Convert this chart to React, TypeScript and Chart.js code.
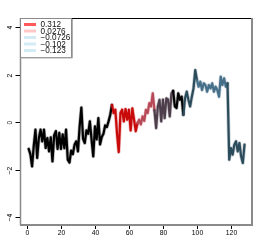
import { useEffect, useRef } from "react";
import { Chart, registerables } from "chart.js";

Chart.register(...registerables);

const yValues = [
  -1.13, -1.35, -1.86, -1.0, -0.32, -1.51, -0.67, -0.32, -0.81, -0.32,
  -1.09, -0.67, -1.23, -0.64, -1.65, -0.55, -0.38, -1.13, -0.45, -1.13,
  -0.52, -1.1, -0.32, -1.58, -1.7, -1.2, -1.35, -0.95, -0.81, -1.23,
  -0.18, 0.61, -0.7, -0.88, -0.35, -0.49, 0.03, -0.73, -1.44, -0.18,
  -0.73, 0.17, -0.94, -0.63, -0.49, -0.14, -0.21, 0.03, 0.31, 0.72,
  0.38, 0.52, -0.49, -1.26, 0.38, 0.52, 0.03, 0.55, 0.1, 0.52,
  -0.35, 0.58, 0.1, -0.38, -0.05, 0.1, -0.1, 0.24, 0.05, 0.52,
  0.38, 0.8, 0.66, 1.21, 0.5, -0.25, 0.66, 0.94, 0.03, 0.95,
  0.17, 1.0, 0.95, 0.24, 1.21, 1.31, 0.66, 0.59, 1.21, 0.94,
  1.07, 0.31, 1.0, 1.28, 0.94, 0.66, 1.07, 1.42, 2.19, 1.77,
  1.49, 1.7, 1.35, 1.63, 1.56, 1.28, 1.56, 1.42, 1.63, 1.28,
  1.49, 1.35, 1.07, 1.91, 1.56, 1.84, 1.49, 1.63, -1.58, -1.09,
  -1.37, -0.95, -0.81, -1.23, -0.88, -1.44, -1.72, -0.95,
];

const segmentStarts = [1, 50, 65, 75, 86, 92, 100, 118];
const segmentColors = [
  "#000000",
  "#c80a0a",
  "#b84a58",
  "#4e3e4c",
  "#000000",
  "#2c4c5c",
  "#46708a",
  "#2c4c5c",
];

const legendLabels = ["0.312", "0.0276", "\u22120.0726", "\u22120.102", "\u22120.123"];
const legendColors = ["#ff5a5a", "#ffc8c8", "#d2ebf5", "#d2ebf5", "#d2ebf5"];

const xTicks = [0, 20, 40, 60, 80, 100, 120];
const yTicks = [-4, -2, 0, 2, 4];

const TICK_FONT = "6.8px 'Liberation Sans', Arial, sans-serif";
const LEGEND_FONT = "8.2px 'Liberation Sans', Arial, sans-serif";

function colorFor(x: number, alpha = 1): string {
  let idx = 0;
  for (let i = 0; i < segmentStarts.length; i++) {
    if (x >= segmentStarts[i]) idx = i;
  }
  const c = segmentColors[idx];
  if (alpha >= 1) return c;
  const r = parseInt(c.slice(1, 3), 16);
  const g = parseInt(c.slice(3, 5), 16);
  const b = parseInt(c.slice(5, 7), 16);
  return `rgba(${r},${g},${b},${alpha})`;
}

function fmt(v: number): string {
  return v < 0 ? "\u2212" + Math.abs(v) : String(v);
}

const axesPlugin = {
  id: "rAxes",
  afterDraw(chart: any) {
    const ctx = chart.ctx as CanvasRenderingContext2D;
    const { left, right, top, bottom } = chart.chartArea;
    const xs = chart.scales.x;
    const ys = chart.scales.y;
    ctx.save();
    // box
    ctx.strokeStyle = "#000";
    ctx.lineWidth = 1;
    ctx.beginPath();
    ctx.moveTo(left, top + 0.5);
    ctx.lineTo(right, top + 0.5);
    ctx.stroke();
    ctx.strokeStyle = "#8a8a8a";
    ctx.lineWidth = 1.5;
    ctx.beginPath();
    ctx.moveTo(left + 0.5, top);
    ctx.lineTo(left + 0.5, bottom);
    ctx.stroke();
    ctx.lineWidth = 2;
    ctx.beginPath();
    ctx.moveTo(left, bottom);
    ctx.lineTo(right, bottom);
    ctx.lineTo(right, top);
    ctx.stroke();

    // ticks
    ctx.strokeStyle = "#000";
    ctx.lineWidth = 1;
    ctx.fillStyle = "#000";
    ctx.font = TICK_FONT;
    ctx.textAlign = "center";
    ctx.textBaseline = "middle";
    for (const v of xTicks) {
      const px = Math.round(xs.getPixelForValue(v)) + 0.5;
      ctx.beginPath();
      ctx.moveTo(px, bottom + 1);
      ctx.lineTo(px, bottom + 4);
      ctx.stroke();
      ctx.fillText(fmt(v), px, bottom + 8.5);
    }
    for (const v of yTicks) {
      const py = Math.round(ys.getPixelForValue(v)) + 0.5;
      ctx.beginPath();
      ctx.moveTo(left - 4.5, py);
      ctx.lineTo(left, py);
      ctx.stroke();
      ctx.save();
      ctx.translate(left - 10, py);
      ctx.rotate(-Math.PI / 2);
      ctx.fillText(fmt(v), 0, 0);
      ctx.restore();
    }

    // legend
    const lx = left + 0.5;
    const ly = top;
    const lw = 51;
    const lh = 39;
    ctx.fillStyle = "#fff";
    ctx.fillRect(lx, ly, lw, lh);
    ctx.strokeStyle = "#8a8a8a";
    ctx.lineWidth = 1;
    ctx.strokeRect(lx, ly + 0.5, lw, lh);
    ctx.strokeStyle = "#b0b0b0";
    ctx.beginPath();
    ctx.moveTo(lx + lw + 1, ly + 1);
    ctx.lineTo(lx + lw + 1, ly + lh + 1);
    ctx.lineTo(lx + 1, ly + lh + 1);
    ctx.stroke();
    ctx.font = LEGEND_FONT;
    ctx.textAlign = "left";
    ctx.textBaseline = "middle";
    legendLabels.forEach((lab, i) => {
      const yy = ly + 6.5 + i * 6.5;
      ctx.strokeStyle = legendColors[i];
      ctx.lineWidth = 3;
      ctx.beginPath();
      ctx.moveTo(lx + 3.5, yy);
      ctx.lineTo(lx + 15.5, yy);
      ctx.stroke();
      ctx.fillStyle = "#111";
      ctx.fillText(lab, lx + 20, yy + 0.5);
    });
    ctx.restore();
  },
};

export default function App() {
  const ref = useRef<HTMLCanvasElement | null>(null);
  useEffect(() => {
    if (!ref.current) return;
    const points = yValues.map((y, i) => ({ x: i + 1, y }));
    const chart = new Chart(ref.current, {
      type: "line",
      data: {
        datasets: [
          {
            data: points,
            borderWidth: 2.2,
            borderColor: "#000",
            borderJoinStyle: "round",
            borderCapStyle: "round",
            pointRadius: 0,
            tension: 0,
            segment: {
              borderColor: (c: any) => colorFor(c.p0.parsed.x),
            },
          } as any,
          {
            data: points,
            borderWidth: 3.6,
            borderColor: "rgba(0,0,0,0.3)",
            borderJoinStyle: "round",
            borderCapStyle: "round",
            pointRadius: 0,
            tension: 0,
            segment: {
              borderColor: (c: any) => colorFor(c.p0.parsed.x, 0.3),
            },
          } as any,
        ],
      },
      options: {
        responsive: false,
        animation: false,
        devicePixelRatio: 1,
        layout: { padding: { left: 20, top: 18, right: 21, bottom: 20 } },
        scales: {
          x: { type: "linear", display: false, min: -4.1, max: 132.4 },
          y: { type: "linear", display: false, min: -4.33, max: 4.38 },
        },
        plugins: { legend: { display: false }, tooltip: { enabled: false } },
      },
      plugins: [axesPlugin],
    });
    return () => chart.destroy();
  }, []);
  return (
    <div style={{ position: "absolute", left: 0, top: 0, width: 273, height: 245, background: "#fff" }}>
      <canvas ref={ref} width={273} height={245} />
    </div>
  );
}
